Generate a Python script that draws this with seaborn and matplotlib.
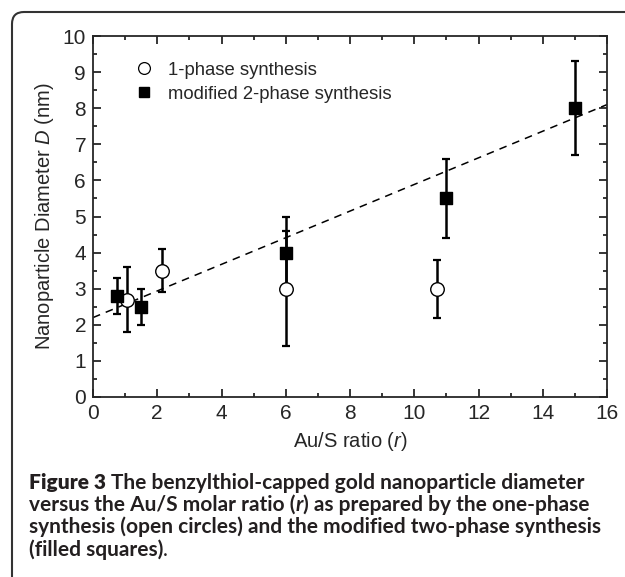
import numpy as np
import pandas as pd
import matplotlib
matplotlib.use('Agg')
import matplotlib.pyplot as plt
import seaborn as sns
from matplotlib.patches import FancyBboxPatch
from matplotlib.transforms import IdentityTransform
from matplotlib.ticker import MultipleLocator
from matplotlib.lines import Line2D

# one-phase synthesis (open circles)
one_x = [1.05, 2.15, 6.0, 10.7]
one_y = [2.7, 3.5, 3.0, 3.0]
one_err = [0.9, 0.6, 1.6, 0.8]

# modified two-phase synthesis (filled squares)
two_x = [0.75, 1.5, 6.0, 11.0, 15.0]
two_y = [2.8, 2.5, 4.0, 5.5, 8.0]
two_err = [0.5, 0.5, 1.0, 1.1, 1.3]

# linear fit (dashed)
fit_x = [0, 16]
fit_y = [2.2, 8.1]

labels = ['1-phase synthesis', 'modified 2-phase synthesis']

sns.set_style('ticks')
plt.rcParams['font.family'] = ['Liberation Sans', 'DejaVu Sans']
plt.rcParams['mathtext.fontset'] = 'custom'
plt.rcParams['mathtext.it'] = 'Liberation Sans:italic'
plt.rcParams['mathtext.rm'] = 'Liberation Sans'

one = pd.DataFrame({'r': one_x, 'D': one_y, 'err': one_err})
two = pd.DataFrame({'r': two_x, 'D': two_y, 'err': two_err})

fig = plt.figure(figsize=(6.25, 5.77), dpi=100)
ax = fig.add_axes([93/625, 1-397/577, 514/625, 361/577])

# fitted line
sns.lineplot(x=fit_x, y=fit_y, ax=ax, color='black', lw=1.1, linestyle=(0, (5, 4)), zorder=1)

# error bars
for d in (one, two):
    ax.errorbar(d['r'], d['D'], yerr=d['err'], fmt='none', ecolor='black',
                elinewidth=1.8, capsize=2.8, capthick=1.6, zorder=2)

sns.scatterplot(data=one, x='r', y='D', marker='o', color='white', edgecolor='black',
                linewidth=1.0, s=95, ax=ax, zorder=3)
sns.scatterplot(data=two, x='r', y='D', marker='s', color='black', edgecolor='black',
                linewidth=1.0, s=80, ax=ax, zorder=3)

# legend
handles = [Line2D([], [], marker='o', ls='none', mfc='white', mec='black', ms=8.5, mew=0.9),
           Line2D([], [], marker='s', ls='none', mfc='black', mec='black', ms=7.5)]
ax.legend(handles, labels, loc='upper left', bbox_to_anchor=(0.045, 0.975), frameon=False,
          fontsize=13.3, handletextpad=0.7, labelspacing=0.38, handlelength=1.2)

ax.set_xlim(0, 16)
ax.set_ylim(0, 10)
ax.xaxis.set_major_locator(MultipleLocator(2))
ax.xaxis.set_minor_locator(MultipleLocator(1))
ax.yaxis.set_major_locator(MultipleLocator(1))
ax.yaxis.set_minor_locator(MultipleLocator(0.5))
ax.tick_params(which='both', direction='in', top=True, right=True, labelsize=15, width=1.3, pad=5)
ax.tick_params(which='major', length=5.5)
ax.tick_params(which='minor', length=3)
for sp in ax.spines.values():
    sp.set_linewidth(1.3)
ax.set_xlabel('Au/S ratio ($\\mathit{r}$)', fontsize=14.5, labelpad=5)
ax.set_ylabel('Nanoparticle Diameter $\\mathit{D}$ (nm)', fontsize=14.5, labelpad=5)

# rounded frame around the figure
frame = FancyBboxPatch((12, -100), 800, 577 - 12 + 100, boxstyle='round,pad=0,rounding_size=12',
                       transform=IdentityTransform(), fill=False, ec='#333333', lw=1.5)
fig.patches.append(frame)

# caption (pieces: text, weight, style)
caption = [
    [('Figure 3 ', 'heavy', 'normal'), ('The benzylthiol-capped gold nanoparticle diameter', 'bold', 'normal')],
    [('versus the Au/S molar ratio (', 'bold', 'normal'), ('r', 'bold', 'italic'),
     (') as prepared by the one-phase', 'bold', 'normal')],
    [('synthesis (open circles) and the modified two-phase synthesis', 'bold', 'normal')],
    [('(filled squares)', 'bold', 'normal'), ('.', 'normal', 'normal')],
]
line_end = [617, 597, 603]
cap_font = ['Lato', 'DejaVu Sans']
cap_color = '#231f20'
x_left = 29
line_y = [577 - 483, 577 - 505, 577 - 527, 577 - 550]
renderer = fig.canvas.get_renderer()

def draw_line(pieces, y, size):
    x = x_left
    arts = []
    for chunk, weight, style in pieces:
        t = fig.text(x, y, chunk, transform=IdentityTransform(), family=cap_font, size=size,
                     weight=weight, style=style, color=cap_color, va='center', ha='left')
        x += t.get_window_extent(renderer).width
        arts.append(t)
    return arts, x

# size the caption so that no line runs past where the original ends it
scale = []
for pieces, end in zip(caption[:3], line_end):
    probe, xe = draw_line(pieces, 0, 10)
    scale.append((end - x_left) / (xe - x_left))
    for t in probe:
        t.remove()
cap_size = 10 * min(scale)
for pieces, y in zip(caption, line_y):
    draw_line(pieces, y, cap_size)

fig.savefig('out.png', dpi=100)
